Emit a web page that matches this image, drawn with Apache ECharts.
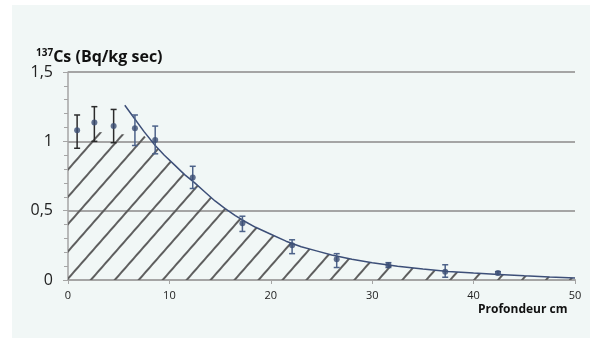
<!DOCTYPE html>
<html><head><meta charset="utf-8">
<script src="https://cdn.jsdelivr.net/npm/echarts@6/dist/echarts.min.js"></script>
<style>html,body{margin:0;padding:0;background:#fff}#c{width:590px;height:338px}</style>
</head><body><div id="c"></div>
<script>
// measured points
const depth = [0.9, 2.6, 4.5, 6.6, 8.6, 12.3, 17.2, 22.1, 26.5, 31.6, 37.2, 42.4];
const activity = [1.08, 1.135, 1.11, 1.095, 1.01, 0.74, 0.41, 0.25, 0.15, 0.107, 0.06, 0.05];
const errLow = [0.95, 1.0, 0.99, 0.97, 0.91, 0.66, 0.35, 0.19, 0.09, 0.09, 0.02, 0.04];
const errHigh = [1.19, 1.25, 1.23, 1.19, 1.11, 0.82, 0.46, 0.29, 0.19, 0.125, 0.11, 0.06];
// fitted curve
const fitX = [5.6, 6.5, 7.5, 8.6, 9.5, 10.5, 11.5, 12.5, 13.5, 14.5, 15.5, 16.5, 17.5, 18.5, 20, 21.5, 23, 24.5, 26, 28, 30, 32.5, 35, 37.5, 40, 42.5, 45, 47.5, 50];
const fitY = [1.26, 1.17, 1.07, 0.97, 0.90, 0.83, 0.76, 0.70, 0.635, 0.57, 0.515, 0.465, 0.42, 0.38, 0.33, 0.28, 0.24, 0.21, 0.18, 0.15, 0.125, 0.10, 0.08, 0.062, 0.05, 0.04, 0.03, 0.022, 0.015];
// hatched area top boundary
const hatchX = [0, 2.6, 4.5, 6.5, 7.5, 8.6, 9.5, 10.5, 11.5, 12.5, 13.5, 14.5, 15.5, 16.5, 17.5, 18.5, 20, 21.5, 23, 24.5, 26, 28, 30, 32.5, 35, 37.5, 40, 42.5, 45, 47.5, 50];
const hatchY = [0.87, 1.07, 1.06, 1.04, 1.04, 0.97, 0.90, 0.83, 0.76, 0.70, 0.635, 0.57, 0.515, 0.465, 0.42, 0.38, 0.33, 0.28, 0.24, 0.21, 0.18, 0.15, 0.125, 0.10, 0.08, 0.062, 0.05, 0.04, 0.03, 0.022, 0.015];
const xTicks = [0, 10, 20, 30, 40, 50];
const yTicks = [0, 0.5, 1, 1.5];

const barColors = ['#2b2b2b', '#2b2b2b', '#2b2b2b', '#4d6289', '#4d6289', '#4d6289', '#4d6289', '#4d6289', '#4d6289', '#4d6289', '#4d6289', '#4d6289'];

const hatchDecal = {
  symbol: 'rect', symbolSize: 1, color: '#5e5e5e', backgroundColor: 'rgba(0,0,0,0)',
  dashArrayX: [1, 0], dashArrayY: [1.8, 15.2], rotation: -0.85
};

const chart = echarts.init(document.getElementById('c'), null, {renderer: 'canvas'});
chart.setOption({
  animation: false,
  backgroundColor: '#ffffff',
  graphic: [
    {type: 'rect', shape: {x: 12, y: 5, width: 578, height: 333}, style: {fill: '#f1f7f6'}, z: -10, silent: true},
    {type: 'text', left: 36, top: 48, style: {
      rich: {
        s: {fontSize: 10, fontWeight: 'bold', fontFamily: 'Open Sans', fill: '#111', verticalAlign: 'top', padding: [0, 0, 9, 0]},
        t: {fontSize: 16, fontWeight: 'bold', fontFamily: 'Open Sans', fill: '#111'}
      },
      text: '{s|137}{t|Cs (Bq/kg sec)}'
    }},
    {type: 'text', left: 478, top: 304, style: {text: 'Profondeur cm', fontSize: 12, fontWeight: 'bold', fontFamily: 'Open Sans', fill: '#111'}}
  ],
  grid: {left: 68, right: 15, top: 72, bottom: 58},
  xAxis: {
    type: 'value', min: xTicks[0], max: xTicks[xTicks.length - 1], interval: 10,
    axisLine: {lineStyle: {color: '#a5a5a5', width: 2}},
    axisTick: {show: true, length: 4, lineStyle: {color: '#a5a5a5'}},
    splitLine: {show: false},
    axisLabel: {color: '#222', fontSize: 11, fontFamily: 'Open Sans', margin: 10}
  },
  yAxis: {
    type: 'value', min: yTicks[0], max: yTicks[yTicks.length - 1], interval: 0.5,
    axisLine: {show: true, lineStyle: {color: '#a5a5a5', width: 1.5}},
    axisTick: {show: true, length: 5, lineStyle: {color: '#a5a5a5'}},
    minorTick: {show: true, splitNumber: 5, length: 4, lineStyle: {color: '#a5a5a5'}},
    splitLine: {show: true, lineStyle: {color: '#a5a5a5', width: 2}},
    axisLabel: {color: '#222', fontSize: 16, fontFamily: 'Open Sans', margin: 15,
      formatter: v => String(v).replace('.', ',')}
  },
  series: [
    {
      type: 'line', data: hatchX.map((x, i) => [x, hatchY[i]]), symbol: 'none', silent: true,
      lineStyle: {width: 0, opacity: 0},
      itemStyle: {color: 'rgba(0,0,0,0)', decal: hatchDecal},
      areaStyle: {color: 'rgba(0,0,0,0)', opacity: 1},
      z: 1
    },
    {
      type: 'line', data: fitX.map((x, i) => [x, fitY[i]]), symbol: 'none', smooth: false,
      lineStyle: {color: '#3d4f78', width: 1.5}, z: 3
    },
    {
      type: 'custom', z: 4,
      data: depth.map((x, i) => [x, errLow[i], errHigh[i], i]),
      renderItem: (params, api) => {
        const lo = api.coord([api.value(0), api.value(1)]);
        const hi = api.coord([api.value(0), api.value(2)]);
        const c = barColors[api.value(3)];
        const w = 3;
        const st = {stroke: c, lineWidth: 1.5};
        return {type: 'group', children: [
          {type: 'line', shape: {x1: lo[0], y1: lo[1], x2: hi[0], y2: hi[1]}, style: st},
          {type: 'line', shape: {x1: lo[0] - w, y1: lo[1], x2: lo[0] + w, y2: lo[1]}, style: st},
          {type: 'line', shape: {x1: hi[0] - w, y1: hi[1], x2: hi[0] + w, y2: hi[1]}, style: st}
        ]};
      }
    },
    {
      type: 'scatter', data: depth.map((x, i) => [x, activity[i]]), symbol: 'circle', symbolSize: 6,
      itemStyle: {color: '#3b4d74'}, z: 5
    }
  ]
});
</script></body></html>
